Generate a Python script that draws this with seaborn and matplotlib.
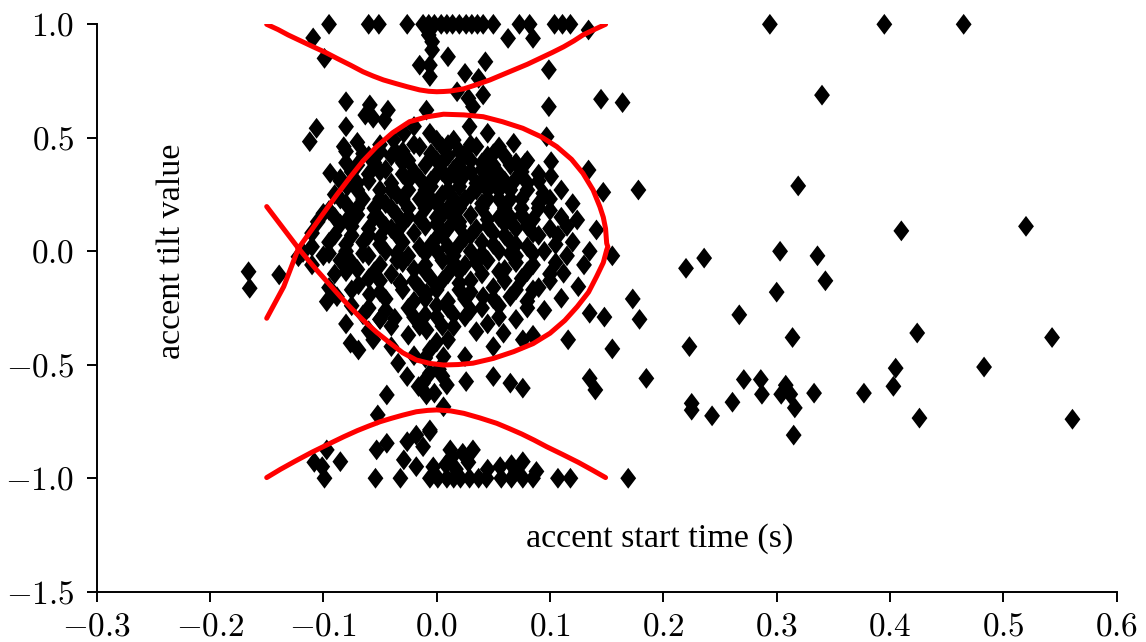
import numpy as np
import pandas as pd
import matplotlib
matplotlib.use("Agg")
import matplotlib.pyplot as plt
from matplotlib.ticker import FuncFormatter
from matplotlib.markers import MarkerStyle
from matplotlib.path import Path
import seaborn as sns

# ---- accents clamped at the maximum tilt (+1) ----
ceiling_time = [-0.095, -0.060, -0.051, -0.026, -0.012, -0.007, -0.002, 0.004, 0.009,
                0.014, 0.020, 0.026, 0.031, 0.036, 0.041, 0.050, 0.073, 0.082, 0.104,
                0.111, 0.118, 0.294, 0.395, 0.465]
ceiling_tilt = [1.0] * len(ceiling_time)

# ---- accents clamped at the minimum tilt (-1) ----
floor_time = [-0.099, -0.054, -0.032, -0.006, 0.001, 0.009, 0.015, 0.021, 0.029, 0.037,
              0.044, 0.057, 0.066, 0.076, 0.085, 0.107, 0.118, 0.169]
floor_tilt = [-1.0] * len(floor_time)

# ---- rising accents above the central cluster ----
upper_time = [-0.109, -0.099, -0.007, -0.004, 0.063, 0.085, 0.134, -0.004, 0.010, 0.043,
              -0.015, -0.006, -0.006, 0.025, 0.037, 0.099, 0.018, 0.028, 0.041, 0.032,
              -0.080, -0.059, -0.063, -0.056, -0.043, -0.046, -0.009, 0.099, 0.145, 0.164,
              -0.106, -0.112, -0.080, 0.029, 0.097]
upper_tilt = [0.94, 0.85, 0.953, 0.923, 0.938, 0.938, 0.975, 0.887, 0.857, 0.835,
              0.82, 0.82, 0.77, 0.784, 0.762, 0.80, 0.703, 0.674, 0.689, 0.637,
              0.659, 0.645, 0.60, 0.586, 0.622, 0.578, 0.622, 0.637, 0.67, 0.655,
              0.542, 0.483, 0.549, 0.549, 0.505]

# ---- central cluster of accents ----
core_time = [-0.082, -0.080, -0.038, -0.029, -0.006, 0.000, 0.035, 0.068, 0.078, 0.134,
             0.101, 0.101, 0.094, 0.124, 0.141, 0.100, 0.107, -0.094, -0.079, -0.100,
             -0.105, -0.077, -0.097, -0.088, -0.076, -0.069, -0.056, -0.069, -0.059, -0.050,
             -0.037, -0.032, -0.009, 0.000, -0.009, -0.006, 0.006, 0.015, 0.035, 0.025,
             0.059, 0.076, 0.041, 0.085, 0.110, 0.125, 0.135, 0.116, 0.112,
             -0.020, 0.045, 0.015, -0.070, -0.015, 0.005, 0.055, -0.050, 0.020, -0.030,
             -0.060, -0.040, 0.010, 0.045, 0.060, -0.025, 0.000, 0.030, 0.080, -0.070,
             -0.010, 0.050, 0.065, -0.045, 0.015, 0.040, -0.060, -0.030, 0.000, 0.025,
             0.055, 0.090, -0.085, -0.015, 0.010, 0.070, -0.070, -0.040, 0.035, 0.050,
             0.080, -0.005, 0.020, -0.050, -0.025, 0.045, 0.065, 0.110, -0.090, -0.035,
             0.005, 0.030, -0.065, -0.015, 0.015, 0.055, 0.075, -0.080, -0.045, 0.000,
             0.040, 0.090, 0.120, -0.055, -0.025, 0.020, 0.060, -0.095, -0.070, -0.035,
             0.005, 0.030, 0.075, -0.050, -0.015, 0.045, 0.085, 0.020, -0.085, -0.030,
             0.000, 0.060, -0.060, -0.040, 0.010, 0.035, 0.070, 0.100, -0.110, -0.020,
             0.050, 0.085, -0.075, -0.050, 0.000, 0.025, -0.095, -0.065, -0.030, 0.040,
             0.065, 0.120, -0.110, -0.015, 0.010, 0.080, -0.080, -0.045, 0.000, 0.030,
             0.055, 0.095, 0.135, -0.100, -0.060, -0.025, 0.015, 0.070, 0.115, -0.085,
             -0.035, 0.005, 0.045, -0.110, -0.050, -0.010, 0.025, 0.085, 0.130, -0.070,
             -0.020, 0.060, -0.090, -0.040, 0.010, 0.040, 0.100, -0.060, -0.005, 0.075,
             -0.032, 0.020, -0.095, -0.015, 0.050, 0.090, -0.050, 0.030, 0.065, -0.020,
             0.010, 0.080, -0.075, 0.000, 0.055, -0.045, 0.030, 0.095, -0.065, -0.010,
             0.015, -0.050, 0.070, -0.080, 0.045, -0.060, -0.025, 0.085, 0.010, -0.040,
             0.050, -0.020, -0.034, -0.026, -0.016, -0.009, -0.002, 0.009, 0.026, 0.050,
             0.065, 0.076, -0.044, -0.052, 0.006, -0.006, 0.135, 0.140, -0.006, 0.002]
core_tilt = [0.461, 0.44, 0.49, 0.52, 0.52, 0.49, 0.461, 0.476, 0.388, 0.358,
             0.395, 0.33, 0.255, 0.138, 0.094, 0.18, 0.07, 0.344, 0.285, 0.167,
             0.13, 0.152, -0.222, -0.20, -0.405, -0.435, -0.39, -0.148, -0.19, -0.30,
             -0.295, -0.141, -0.185, -0.288, -0.347, -0.435, -0.464, -0.332, -0.354, -0.464,
             -0.361, -0.39, -0.20, -0.17, -0.207, -0.156, -0.273, -0.39, -0.097,
             0.55, 0.52, 0.49, 0.48, 0.46, 0.46, 0.46, 0.44, 0.44, 0.44,
             0.42, 0.42, 0.42, 0.42, 0.42, 0.40, 0.40, 0.40, 0.40, 0.38,
             0.38, 0.38, 0.38, 0.36, 0.36, 0.36, 0.34, 0.34, 0.34, 0.34,
             0.34, 0.34, 0.32, 0.32, 0.32, 0.32, 0.30, 0.30, 0.30, 0.30,
             0.30, 0.285, 0.285, 0.27, 0.27, 0.27, 0.27, 0.27, 0.25, 0.25,
             0.25, 0.25, 0.23, 0.23, 0.23, 0.23, 0.23, 0.21, 0.21, 0.21,
             0.21, 0.21, 0.21, 0.19, 0.19, 0.19, 0.19, 0.18, 0.16, 0.16,
             0.16, 0.16, 0.16, 0.14, 0.14, 0.14, 0.14, 0.13, 0.12, 0.12,
             0.12, 0.12, 0.10, 0.10, 0.10, 0.10, 0.10, 0.10, 0.08, 0.08,
             0.08, 0.08, 0.07, 0.06, 0.06, 0.06, 0.04, 0.04, 0.04, 0.04,
             0.04, 0.04, 0.02, 0.02, 0.02, 0.02, 0.00, 0.00, 0.00, 0.00,
             0.00, 0.00, 0.00, -0.02, -0.02, -0.02, -0.02, -0.02, -0.02, -0.04,
             -0.04, -0.04, -0.04, -0.06, -0.06, -0.06, -0.06, -0.06, -0.06, -0.08,
             -0.08, -0.08, -0.10, -0.10, -0.10, -0.10, -0.10, -0.12, -0.12, -0.12,
             -0.14, -0.14, -0.16, -0.16, -0.16, -0.16, -0.18, -0.18, -0.20, -0.22,
             -0.22, -0.22, -0.24, -0.24, -0.24, -0.26, -0.26, -0.26, -0.28, -0.28,
             -0.28, -0.30, -0.30, -0.32, -0.32, -0.35, -0.37, -0.37, -0.39, -0.42,
             -0.42, -0.46, -0.493, -0.552, -0.596, -0.633, -0.625, -0.589, -0.574, -0.552,
             -0.581, -0.603, -0.633, -0.721, -0.685, -0.787, -0.56, -0.611, -0.537, -0.52]

# ---- the most crowded part of the cluster ----
dense_time = [-0.050, -0.020, 0.010, 0.030,
              -0.065, -0.035, -0.005, 0.025, 0.050,
              -0.080, -0.055, -0.030, 0.005, 0.020, 0.040, 0.070,
              -0.075, -0.050, -0.020, 0.005, 0.030, 0.045, 0.075,
              -0.085, -0.060, -0.025, -0.005, 0.020, 0.040, 0.060, 0.090,
              -0.070, -0.040, -0.010, 0.010, 0.035, 0.055, 0.080,
              -0.085, -0.050, -0.030, -0.005, 0.025, 0.045, 0.065, 0.100,
              -0.070, -0.040, -0.010, 0.010, 0.040, 0.075, 0.090,
              -0.090, -0.055, -0.025, 0.000, 0.015, 0.055, 0.065, 0.110,
              -0.075, -0.045, -0.010, 0.020, 0.045, 0.080, 0.115,
              -0.090, -0.060, -0.035, 0.005, 0.030, 0.060, 0.090,
              -0.080, -0.050, -0.005, 0.020, 0.050, 0.070, 0.105,
              -0.095, -0.065, -0.035, -0.010, 0.040, 0.065, 0.085,
              -0.075, -0.030, 0.015, 0.035, 0.070, 0.105,
              -0.080, -0.055, -0.010, 0.020, 0.055, 0.080,
              -0.050, -0.020, 0.005, 0.030, 0.060, 0.100,
              -0.075, -0.030, 0.000, 0.020, 0.070,
              -0.045, -0.010, 0.025, 0.050,
              -0.060, -0.025, 0.010, 0.040, 0.080,
              -0.020, 0.025, 0.055,
              -0.040, -0.015, 0.005,
              0.000, -0.010, 0.005, -0.012]
dense_tilt = [0.47] * 4 + [0.43] * 5 + [0.39] * 7 + [0.35] * 7 + [0.31] * 8 + \
             [0.27] * 7 + [0.23] * 8 + [0.19] * 7 + [0.15] * 8 + [0.11] * 7 + \
             [0.07] * 7 + [0.03] * 7 + [-0.01] * 7 + [-0.05] * 6 + [-0.09] * 6 + \
             [-0.13] * 6 + [-0.17] * 5 + [-0.21] * 4 + [-0.25] * 5 + [-0.29] * 3 + \
             [-0.33] * 3 + [-0.40, -0.47, -0.55, -0.58]

# ---- falling accents below the central cluster ----
lower_time = [-0.101, -0.097, -0.085, -0.108, -0.053, -0.044, -0.029, -0.026, -0.018, -0.012,
              -0.006, -0.018, -0.003, 0.012, 0.023, 0.032, 0.028, 0.008, 0.045, 0.056,
              0.066, 0.076, 0.070, 0.088, 0.013, 0.017]
lower_tilt = [-0.949, -0.875, -0.927, -0.93, -0.875, -0.846, -0.919, -0.839, -0.81, -0.861,
              -0.795, -0.949, -0.95, -0.875, -0.89, -0.875, -0.93, -0.94, -0.96, -0.949,
              -0.94, -0.927, -0.97, -0.97, -0.91, -0.96]

# ---- early accents ----
early_time = [-0.166, -0.165, -0.139, -0.122, -0.118]
early_tilt = [-0.09, -0.163, -0.104, -0.024, -0.005]

# ---- late accents ----
late_time = [0.340, 0.178, 0.319, 0.147, 0.410, 0.520, 0.220, 0.236, 0.303, 0.336,
             0.343, 0.300, 0.155, 0.173, 0.148, 0.179, 0.267, 0.155, 0.223, 0.314,
             0.424, 0.543, 0.185, 0.405, 0.483, 0.271, 0.286, 0.308, 0.287, 0.304,
             0.312, 0.316, 0.333, 0.377, 0.403, 0.225, 0.225, 0.243, 0.261, 0.426,
             0.561, 0.315]
late_tilt = [0.688, 0.27, 0.288, 0.26, 0.09, 0.11, -0.075, -0.03, 0.0, -0.02,
             -0.13, -0.18, -0.02, -0.21, -0.29, -0.30, -0.28, -0.43, -0.42, -0.38,
             -0.36, -0.38, -0.56, -0.515, -0.51, -0.565, -0.565, -0.59, -0.63, -0.63,
             -0.63, -0.69, -0.625, -0.625, -0.595, -0.67, -0.70, -0.725, -0.665, -0.735,
             -0.74, -0.81]

# ---- class boundaries ----
upper_bound_x = [-0.150, -0.140, -0.131, -0.120, -0.109, -0.098, -0.088, -0.076, -0.065,
                 -0.056, -0.047, -0.036, -0.026, -0.015, -0.007, 0.000, 0.006, 0.012,
                 0.024, 0.035, 0.047, 0.057, 0.068, 0.080, 0.091, 0.102, 0.112, 0.121,
                 0.129, 0.139, 0.149]
upper_bound_y = [1.000, 0.977, 0.953, 0.927, 0.901, 0.876, 0.850, 0.820, 0.791,
                 0.772, 0.755, 0.739, 0.725, 0.711, 0.705, 0.703, 0.704, 0.706,
                 0.716, 0.734, 0.755, 0.776, 0.799, 0.824, 0.850, 0.876, 0.901, 0.927,
                 0.953, 0.977, 1.000]

lower_bound_x = [-0.150, -0.138, -0.125, -0.110, -0.094, -0.082, -0.070, -0.060, -0.050,
                 -0.040, -0.030, -0.018, -0.008, 0.000, 0.012, 0.024, 0.038, 0.053,
                 0.064, 0.075, 0.086, 0.097, 0.111, 0.125, 0.137, 0.149]
lower_bound_y = [-0.997, -0.961, -0.925, -0.885, -0.846, -0.817, -0.790, -0.770, -0.751,
                 -0.736, -0.722, -0.707, -0.701, -0.699, -0.703, -0.714, -0.734, -0.758,
                 -0.781, -0.805, -0.832, -0.861, -0.895, -0.930, -0.963, -0.997]

loop_bound_x = [-0.150, -0.136, -0.122, -0.114, -0.106, -0.085, -0.075, -0.065, -0.053,
                -0.041, -0.030, -0.018, -0.006, 0.006, 0.019, 0.032, 0.050, 0.068,
                0.085, 0.100, 0.113, 0.124, 0.134, 0.141, 0.147, 0.150, 0.151, 0.150,
                0.149, 0.147, 0.144, 0.138, 0.129, 0.119, 0.106, 0.092, 0.076, 0.058,
                0.041, 0.024, 0.006, -0.009, -0.024, -0.039, -0.053, -0.065, -0.076,
                -0.088, -0.100, -0.111, -0.122, -0.135, -0.150]
loop_bound_y = [0.197, 0.105, 0.013, -0.035, -0.082, -0.200, -0.253, -0.303, -0.357,
                -0.405, -0.447, -0.479, -0.494, -0.501, -0.499, -0.493, -0.472, -0.442,
                -0.407, -0.361, -0.305, -0.244, -0.180, -0.112, -0.050, 0.006, 0.020, 0.035,
                0.100, 0.150, 0.196, 0.270, 0.344, 0.405, 0.461, 0.505, 0.542, 0.571,
                0.593, 0.601, 0.604, 0.592, 0.571, 0.522, 0.461, 0.398, 0.329,
                0.250, 0.167, 0.090, 0.013, -0.156, -0.295]

x_ticks = [-0.3, -0.2, -0.1, 0.0, 0.1, 0.2, 0.3, 0.4, 0.5, 0.6]
y_ticks = [-1.5, -1.0, -0.5, 0.0, 0.5, 1.0]

accents = pd.DataFrame({
    "start": ceiling_time + floor_time + upper_time + core_time + dense_time
             + lower_time + early_time + late_time,
    "tilt": ceiling_tilt + floor_tilt + upper_tilt + core_tilt + dense_tilt
            + lower_tilt + early_tilt + late_tilt,
})

sns.set_style("ticks")
plt.rcParams["font.family"] = "serif"
plt.rcParams["font.serif"] = ["cmr10"]
plt.rcParams["mathtext.fontset"] = "cm"
plt.rcParams["mathtext.rm"] = "cmr10"
plt.rcParams["axes.unicode_minus"] = False

fig = plt.figure(figsize=(11.46, 6.42), dpi=100)
ax = fig.add_axes([0.0844, 0.0783, 0.9744 - 0.0844, 0.9621 - 0.0783])

diamond = MarkerStyle(Path([(0, 1), (0.76, 0), (0, -1), (-0.76, 0), (0, 1)], closed=True))
sns.scatterplot(data=accents, x="start", y="tilt", marker=diamond, s=225,
                color="black", edgecolor="none", linewidth=0, ax=ax, zorder=2,
                clip_on=False)

for bx, by in [(upper_bound_x, upper_bound_y), (lower_bound_x, lower_bound_y),
               (loop_bound_x, loop_bound_y)]:
    sns.lineplot(x=bx, y=by, sort=False, estimator=None, color="#ff0000",
                 linewidth=3.6, ax=ax, zorder=3)

ax.set_xlim(-0.3, 0.6)
ax.set_ylim(-1.5, 1.0)
ax.set_xticks(x_ticks)
ax.set_yticks(y_ticks)
fmt = FuncFormatter(lambda v, p: f"${round(v, 1) + 0.0:.1f}$")
ax.xaxis.set_major_formatter(fmt)
ax.yaxis.set_major_formatter(fmt)
ax.tick_params(direction="out", length=7, width=1.4, labelsize=24, colors="black")
ax.tick_params(axis="x", pad=8)
ax.tick_params(axis="y", pad=9)
ax.set_xlabel("")
ax.set_ylabel("")
sns.despine(ax=ax)
for side in ("left", "bottom"):
    ax.spines[side].set_linewidth(1.4)
    ax.spines[side].set_color("black")

label_font = dict(family="Liberation Serif", fontsize=24.5, color="black")
ax.text(-0.234, 0.0, "accent tilt value", rotation=90, ha="center", va="center", **label_font)
ax.text(0.197, -1.265, "accent start time (s)", ha="center", va="center", **label_font)

fig.savefig("out.png", dpi=100)
